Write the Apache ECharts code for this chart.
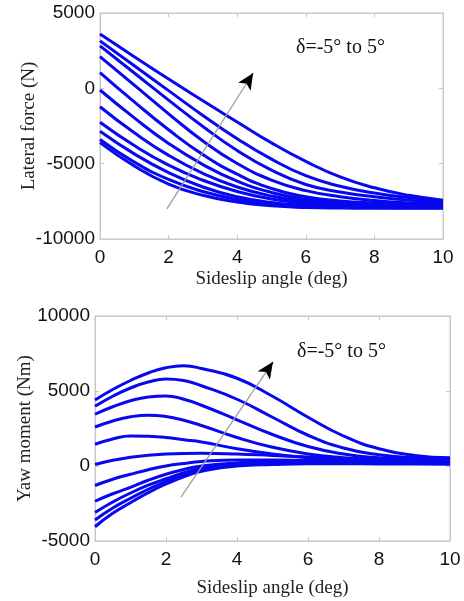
<!DOCTYPE html>
<html>
<head>
<meta charset="utf-8">
<script src="https://cdn.jsdelivr.net/npm/echarts@6/dist/echarts.min.js"></script>
<style>
  html, body { margin: 0; padding: 0; background: #fff; }
  #chart { width: 464px; height: 601px; }
</style>
</head>
<body>
<div id="chart"></div>
<script>
// Sideslip angle samples (deg) for each panel
var forceSideslip = [0, 1, 2, 3, 4, 5, 6, 7, 8, 9, 10];
var yawSideslip = [0, 0.5, 1, 1.5, 2, 2.5, 3, 4, 5, 6, 7, 8, 9, 10];

// Steering angles, one curve each
var steerAngles = [5, 4, 3, 2, 1, 0, -1, -2, -3, -4, -5];

// Lateral force (N), one row per steering angle
var lateralForce = [
  [3600, 2100, 620, -830, -2230, -3620, -4850, -5880, -6600, -7100, -7420],
  [3150, 1500, -150, -1800, -3350, -4700, -5800, -6500, -6950, -7250, -7480],
  [2820, 1020, -780, -2530, -4130, -5430, -6380, -6880, -7200, -7420, -7580],
  [2110, 210, -1690, -3490, -4990, -6090, -6790, -7190, -7440, -7600, -7700],
  [1050, -900, -2750, -4400, -5700, -6650, -7200, -7470, -7610, -7690, -7740],
  [-110, -1960, -3660, -5060, -6160, -6910, -7360, -7580, -7690, -7750, -7790],
  [-1220, -2950, -4450, -5650, -6550, -7150, -7500, -7680, -7760, -7800, -7820],
  [-2250, -3800, -5100, -6100, -6850, -7350, -7620, -7760, -7820, -7850, -7860],
  [-2850, -4350, -5600, -6550, -7200, -7580, -7770, -7850, -7880, -7890, -7890],
  [-3400, -4900, -6050, -6850, -7380, -7680, -7830, -7890, -7910, -7920, -7920],
  [-3600, -5150, -6350, -7100, -7550, -7800, -7910, -7950, -7960, -7960, -7960]
];

// Yaw moment (Nm), one row per steering angle
var yawMoment = [
  [4400, 5100, 5700, 6200, 6550, 6680, 6500, 5850, 4650, 3250, 2000, 1150, 700, 550],
  [3980, 4650, 5200, 5600, 5800, 5700, 5350, 4450, 3250, 2050, 1200, 750, 550, 480],
  [3450, 3950, 4350, 4600, 4670, 4450, 4050, 3080, 2100, 1300, 800, 550, 450, 420],
  [2600, 3000, 3280, 3390, 3300, 3050, 2700, 1900, 1250, 800, 550, 420, 380, 360],
  [1450, 1800, 2000, 1980, 1900, 1750, 1600, 1150, 800, 550, 420, 360, 340, 320],
  [100, 380, 580, 720, 800, 840, 850, 800, 700, 600, 500, 420, 370, 340],
  [-1300, -880, -550, -250, 0, 170, 300, 400, 400, 370, 340, 320, 310, 300],
  [-2350, -1850, -1420, -950, -550, -230, 0, 200, 300, 300, 280, 270, 260, 250],
  [-3100, -2400, -1800, -1280, -850, -450, -150, 100, 200, 250, 230, 220, 210, 200],
  [-3600, -2800, -2150, -1550, -1050, -600, -250, 50, 150, 200, 190, 180, 170, 160],
  [-4050, -3150, -2450, -1780, -1200, -720, -350, 0, 100, 150, 150, 140, 130, 120]
];

var xTicks = [0, 2, 4, 6, 8, 10];
var forceTicks = [-10000, -5000, 0, 5000];
var yawTicks = [-5000, 0, 5000, 10000];

// Arrow showing the direction of increasing steering angle
var forceArrow = [[1.95, -8000], [4.46, 1000]];
var yawArrow = [[2.42, -2070], [5.01, 6930]];
var legendText = 'δ=-5° to 5°';

var chart = echarts.init(document.getElementById('chart'));

var lineColor = '#0808f0';
var boxColor = '#c8c8c8';
var tickFont = { color: '#111', fontSize: 19, fontFamily: 'Liberation Sans, Arial, sans-serif' };
var nameFont = { color: '#222', fontSize: 19, fontFamily: 'Liberation Serif, Times New Roman, serif' };

function plain(v) { return String(v); }

function xAxisDef(gridIndex, pos, showLabel, nameGap) {
  return {
    type: 'value', gridIndex: gridIndex, position: pos,
    min: xTicks[0], max: xTicks[xTicks.length - 1], interval: 2,
    name: showLabel ? 'Sideslip angle (deg)' : '', nameLocation: 'middle', nameGap: nameGap,
    nameMoveOverlap: false,
    nameTextStyle: nameFont,
    axisLine: { show: true, onZero: false, lineStyle: { color: boxColor, width: 1 } },
    axisTick: { show: true, inside: true, length: 4, lineStyle: { color: boxColor } },
    axisLabel: Object.assign({ show: showLabel, margin: 9, formatter: plain }, tickFont),
    splitLine: { show: false }
  };
}

function yAxisDef(gridIndex, pos, ticks, name, showLabel, nameGap) {
  return {
    type: 'value', gridIndex: gridIndex, position: pos,
    min: ticks[0], max: ticks[ticks.length - 1], interval: 5000,
    name: showLabel ? name : '', nameLocation: 'middle', nameGap: nameGap,
    nameMoveOverlap: false,
    nameTextStyle: nameFont,
    axisLine: { show: true, onZero: false, lineStyle: { color: boxColor, width: 1 } },
    axisTick: { show: true, inside: true, length: 4, lineStyle: { color: boxColor } },
    axisLabel: Object.assign({ show: showLabel, margin: 5, formatter: plain }, tickFont),
    splitLine: { show: false }
  };
}

function curveSeries(xs, rows, axisIndex) {
  return rows.map(function (row, i) {
    return {
      name: 'δ=' + steerAngles[i],
      type: 'line',
      xAxisIndex: axisIndex, yAxisIndex: axisIndex,
      data: xs.map(function (x, j) { return [x, row[j]]; }),
      smooth: 0.5,
      showSymbol: false,
      lineStyle: { color: lineColor, width: 3 },
      z: 2
    };
  });
}

function arrowSeries(pts, axisIndex) {
  return {
    type: 'line', xAxisIndex: axisIndex, yAxisIndex: axisIndex,
    data: [], silent: true,
    markLine: {
      silent: true, animation: false,
      symbol: ['none', 'arrow'], symbolSize: [11, 16],
      label: { show: false },
      lineStyle: { color: '#9a9a9a', width: 1.2, type: 'solid' },
      data: [[{ coord: pts[0] }, { coord: pts[1] }]]
    },
    z: 5
  };
}

function arrowHeadSeries(pts, axisIndex) {
  // short black segment carrying the filled head
  var a = pts[0], b = pts[1];
  var t = 0.93;
  var mid = [a[0] + (b[0] - a[0]) * t, a[1] + (b[1] - a[1]) * t];
  return {
    type: 'line', xAxisIndex: axisIndex, yAxisIndex: axisIndex,
    data: [], silent: true,
    markLine: {
      silent: true, animation: false,
      symbol: ['none', 'arrow'], symbolSize: [11, 16],
      label: { show: false },
      lineStyle: { color: '#000', width: 1.2, type: 'solid', opacity: 1 },
      data: [[{ coord: mid }, { coord: b }]]
    },
    z: 6
  };
}

var series = []
  .concat(curveSeries(forceSideslip, lateralForce, 0))
  .concat(curveSeries(yawSideslip, yawMoment, 1))
  .concat([arrowSeries(forceArrow, 0), arrowHeadSeries(forceArrow, 0),
           arrowSeries(yawArrow, 1), arrowHeadSeries(yawArrow, 1)]);

chart.setOption({
  animation: false,
  backgroundColor: '#fff',
  grid: [
    { left: 100, top: 13, width: 343, height: 226, show: true, borderColor: boxColor, borderWidth: 1 },
    { left: 95, top: 316, width: 355, height: 225, show: true, borderColor: boxColor, borderWidth: 1 }
  ],
  xAxis: [
    xAxisDef(0, 'bottom', true, 31),
    xAxisDef(1, 'bottom', true, 38),
    xAxisDef(0, 'top', false, 0),
    xAxisDef(1, 'top', false, 0)
  ],
  yAxis: [
    yAxisDef(0, 'left', forceTicks, 'Lateral force (N)', true, 61),
    yAxisDef(1, 'left', yawTicks, 'Yaw moment (Nm)', true, 60),
    yAxisDef(0, 'right', forceTicks, '', false, 0),
    yAxisDef(1, 'right', yawTicks, '', false, 0)
  ],
  graphic: [
    { type: 'text', left: 296, top: 38, style: { text: legendText, fill: '#111', font: '20px "Liberation Serif", "Times New Roman", serif' } },
    { type: 'text', left: 297, top: 342, style: { text: legendText, fill: '#111', font: '20px "Liberation Serif", "Times New Roman", serif' } }
  ],
  series: series
});
</script>
</body>
</html>
